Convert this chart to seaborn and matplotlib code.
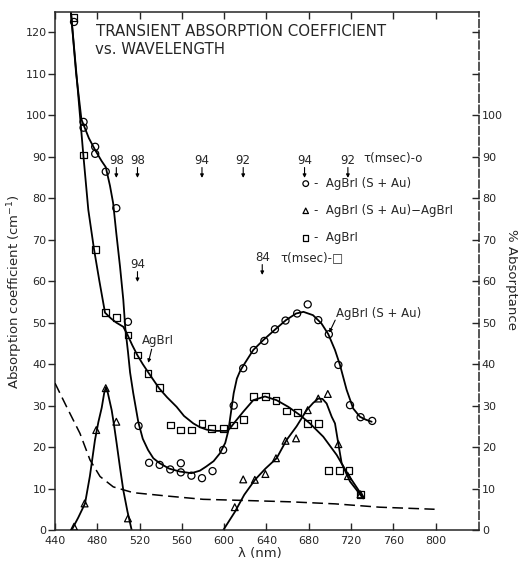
import numpy as np
import pandas as pd
import seaborn as sns
import matplotlib.pyplot as plt

# measured points, AgBrI (S+Au)  -- circles
circ_x = [458, 467, 467, 478, 478, 488, 498, 509, 519, 529, 539, 549, 559, 559, 569,
          579, 589, 599, 609, 618, 628, 638, 648, 658, 669, 679, 689, 699, 708, 719, 729, 740]
circ_y = [122.5, 98.4, 97.0, 92.4, 90.7, 86.4, 77.6, 50.2, 25.1, 16.2, 15.7, 14.6, 16.1, 13.9, 13.1,
          12.5, 14.2, 19.3, 30.0, 39.0, 43.4, 45.6, 48.4, 50.5, 52.2, 54.4, 50.6, 47.2, 39.8, 30.1, 27.2, 26.3]

# AgBrI (S+Au) - AgBrI  -- triangles
tri_x = [458, 468, 479, 488, 498, 509, 610, 618, 629, 639, 649, 658, 668, 679, 689, 698, 708, 717, 729]
tri_y = [0.8, 6.4, 24.1, 34.2, 26.1, 2.8, 5.5, 12.2, 12.1, 13.5, 17.3, 21.5, 22.1, 28.9, 31.7, 32.8, 20.7, 13.0, 8.6]

# AgBrI  -- squares
sq_x = [458, 467, 478, 488, 498, 509, 518, 528, 539, 549, 559, 569, 579, 588, 599, 609, 618,
        628, 639, 649, 659, 669, 679, 689, 699, 709, 718, 729]
sq_y = [123.5, 90.4, 67.7, 52.4, 51.2, 47.0, 42.2, 37.8, 34.4, 25.3, 24.1, 24.1, 25.6, 24.4, 24.4, 25.3, 26.7,
        32.1, 32.1, 31.2, 28.7, 28.3, 25.6, 25.6, 14.3, 14.3, 14.3, 8.6]

# hand-drawn curves
fit_circ_x = [455, 460, 465, 472, 478, 484, 488, 492, 495, 498, 501.5, 504.6, 506.5, 509, 511, 514,
              518.8, 523, 528, 533, 539, 548, 558, 569, 577, 583, 590, 596, 601, 604, 606.5, 609,
              612, 615, 618, 627.5, 637, 648, 658.4, 668, 675, 684, 692, 698.5, 704.8, 709.5, 715.8,
              722, 728.4, 734, 739.5]
fit_circ_y = [125, 110, 99, 94.5, 91.6, 89, 87.5, 83, 78.8, 71.5, 63.5, 55.5, 48.6, 43, 38, 33,
              26, 22, 19.3, 17.3, 16.1, 14.8, 14.1, 13.7, 14.3, 15.3, 16.6, 18.5, 21, 24, 28.5, 33,
              36.5, 38.3, 39.6, 43.4, 45.8, 48.3, 50.6, 52.2, 52.6, 51.8, 49.8, 47.2, 43.4, 39.8, 33.8,
              29.3, 27.3, 26.6, 26.1]

fit_sq_x = [455, 460.5, 466.8, 471.5, 476.9, 482, 487.3, 493, 498, 504.6, 508.7, 513, 517.8, 523,
            528.2, 533, 538.7, 546, 555, 562, 570.8, 577, 583.4, 592, 602.4, 605.5, 610, 618, 627.5,
            638.6, 649.6, 660.6, 671.7, 681.1, 693.7, 706.4, 717.4, 731.5]
fit_sq_y = [125, 109.3, 90.4, 77.2, 67.7, 60, 52.4, 51, 50, 49, 47, 44.6, 42.2, 40, 38, 36.2, 34.1,
            32, 29.7, 27.5, 25.7, 24.8, 24.2, 23.9, 23.9, 24.5, 26, 28.5, 31.3, 32.2, 31.3, 29.7,
            27.7, 25.7, 22.5, 18.1, 13.3, 7.9]

fit_tri1_x = [455.8, 462, 468.4, 473, 477.8, 481, 484.2, 486.5, 488.2, 490, 493.6, 496, 498.3,
              501.5, 504.6, 508.5, 512.5]
fit_tri1_y = [0, 3, 6.4, 13, 21.7, 26, 29.5, 33, 34.4, 33, 28.9, 25, 20.9, 15, 9.6, 4.5, 0]

fit_tri2_x = [599.2, 610.2, 619, 629.1, 639, 649.6, 659, 668.5, 678, 684, 689, 693, 696.9, 701.7,
              704.8, 707.9, 711.1, 719, 731.5]
fit_tri2_y = [0, 4.4, 8.5, 12.1, 14.8, 17.3, 21.7, 25, 28.9, 30.6, 31.7, 31.6, 30.5, 27.3, 25.7,
              20.9, 16.1, 11.7, 7.6]

# % absorptance (right axis)
abs_x = [440, 451, 463.6, 473.1, 482.6, 495.1, 514, 545.6, 580, 622, 662, 705, 747, 799]
abs_y = [35.4, 29.7, 23.3, 16.9, 12.9, 10.4, 9.0, 8.2, 7.4, 7.1, 6.8, 6.3, 5.5, 5.0]

# lifetimes tau (msec) marked with arrows
tau_circ_wl = [498, 518, 579, 618, 676, 717]
tau_circ = ['98', '98', '94', '92', '94', '92']
tau_sq_wl = [518, 636]
tau_sq = ['94', '84']

xticks = list(range(440, 801, 40))
yticks = list(range(0, 121, 10))

sns.set_style("ticks")
plt.rcParams['font.family'] = ['DejaVu Sans']
plt.rcParams['axes.linewidth'] = 1.1

fig = plt.figure(figsize=(5.18, 5.62), dpi=100)
ax = fig.add_axes([55 / 518, 32 / 562, 424 / 518, 518 / 562])
ax2 = ax.twinx()

lw = 1.3
for fx, fy in [(fit_circ_x, fit_circ_y), (fit_sq_x, fit_sq_y),
               (fit_tri1_x, fit_tri1_y), (fit_tri2_x, fit_tri2_y)]:
    sns.lineplot(x=fx, y=fy, sort=False, estimator=None, color='black', lw=lw, ax=ax)

sns.scatterplot(x=circ_x, y=circ_y, marker='o', s=26, facecolors='none', edgecolor='black',
                linewidth=0.9, ax=ax, zorder=3)
h_circ = ax.collections[-1]
sns.scatterplot(x=tri_x, y=tri_y, marker='^', s=24, facecolors='none', edgecolor='black',
                linewidth=0.9, ax=ax, zorder=3)
h_tri = ax.collections[-1]
sns.scatterplot(x=sq_x, y=sq_y, marker='s', s=24, facecolors='none', edgecolor='black',
                linewidth=0.9, ax=ax, zorder=3)
h_sq = ax.collections[-1]

sns.lineplot(x=abs_x, y=abs_y, sort=False, estimator=None, color='black', lw=1.1,
             dashes=False, ax=ax2)
ax2.lines[-1].set_dashes((7, 3.5))

ax.set_xlim(440, 841)
ax.set_ylim(0, 124.9)
ax2.set_ylim(0, 124.9)
ax.set_xticks(xticks)
ax.set_yticks(yticks)
ax2.set_yticks(yticks)
ax2.set_yticklabels([str(t) if t <= 100 else '' for t in yticks])

ax.tick_params(axis='x', direction='in', top=True, length=5, width=1, labelsize=8, pad=4)
ax.tick_params(axis='y', direction='out', length=5, width=1, labelsize=8, pad=1)
ax2.tick_params(axis='y', direction='in', length=5, width=1, labelsize=8, pad=2)

ax.spines['right'].set_visible(False)
for s in ['left', 'top', 'bottom']:
    ax2.spines[s].set_visible(False)
ax2.spines['right'].set_linestyle((0, (5, 2)))
ax2.spines['right'].set_linewidth(1.1)

ax.set_xlabel('λ (nm)', fontsize=9.5)
ax.xaxis.set_label_coords(0.483, -0.033)
ax.set_ylabel('Absorption coefficient (cm$^{-1}$)', fontsize=9.5)
ax.yaxis.set_label_coords(-0.071, 0.461)
ax2.set_ylabel('% Absorptance', fontsize=9.5, rotation=270, va='bottom')
ax2.yaxis.set_label_coords(1.061, 0.483)

ax.text(478.8, 120.1, 'TRANSIENT ABSORPTION COEFFICIENT', fontsize=10.8, va='center')
ax.text(477.8, 115.9, 'vs. WAVELENGTH', fontsize=10.8, va='center')

arrow_kw = dict(arrowstyle='-|>', lw=0.8, color='black', mutation_scale=5, shrinkA=0, shrinkB=0)
for wl, t in zip(tau_circ_wl, tau_circ):
    ax.text(wl, 89.0, t, fontsize=8.5, ha='center', va='center')
    ax.annotate('', xy=(wl, 84.9), xytext=(wl, 87.4), arrowprops=arrow_kw)
ax.text(731.6, 89.6, 'τ(msec)-o', fontsize=8.5, va='center')

tau_sq_y = [63.9, 65.6]
for wl, t, ty in zip(tau_sq_wl, tau_sq, tau_sq_y):
    ax.text(wl, ty, t, fontsize=8.5, ha='center', va='center')
    ax.annotate('', xy=(wl, ty - 4.1), xytext=(wl, ty - 1.6), arrowprops=arrow_kw)
ax.text(652.8, 65.6, 'τ(msec)-□', fontsize=8.5, va='center')

ax.legend([h_circ, h_tri, h_sq],
          ['-  AgBrI (S + Au)', '-  AgBrI (S + Au)−AgBrI', '-  AgBrI'],
          loc='upper left', bbox_to_anchor=(0.583, 0.682), frameon=False, fontsize=8.5,
          handlelength=0.6, handletextpad=0.4, labelspacing=1.2, borderpad=0,
          borderaxespad=0, markerscale=0.8)

ax.text(522, 45.8, 'AgBrI', fontsize=8.5, va='center')
ax.annotate('', xy=(528.2, 40.3), xytext=(531.4, 43.6), arrowprops=arrow_kw)
ax.text(705.7, 52.3, 'AgBrI (S + Au)', fontsize=8.5, va='center')
ax.annotate('', xy=(699.4, 47.6), xytext=(705.0, 50.6), arrowprops=arrow_kw)

fig.savefig('out.png', dpi=100)
